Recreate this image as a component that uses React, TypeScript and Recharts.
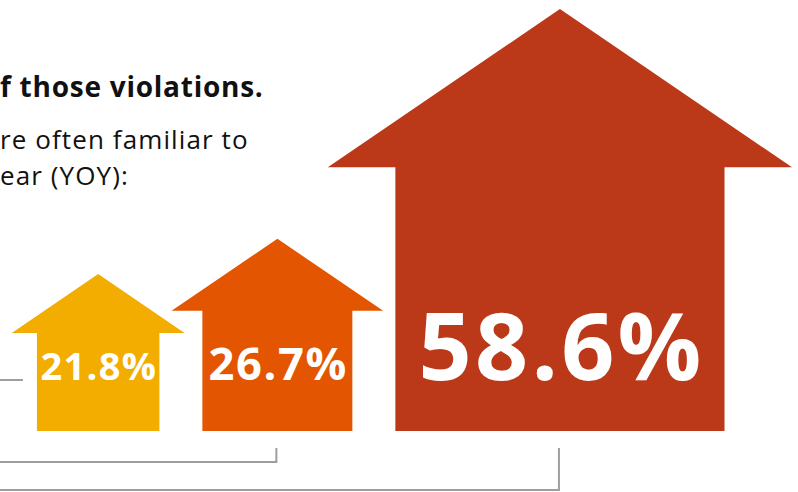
import { ComposedChart, Bar, XAxis, YAxis } from 'recharts';

// values, left to right
const SERIES = ['first', 'second', 'third'];
const VALUES = [21.8, 26.7, 58.6];
const LABELS = ['21.8%', '26.7%', '58.6%'];
const COLORS = ['#F2AD00', '#E35500', '#BB3819'];

const INTRO_LINES = ['f those violations.', 're often familiar to', 'ear (YOY):'];

const WIDTH = 798;
const HEIGHT = 492;
const MARGIN = { top: 9, right: 0, bottom: 61, left: 0 };
const PLOT_H = HEIGHT - MARGIN.top - MARGIN.bottom;
const MAX = Math.max(...VALUES);
const PX_PER_UNIT = PLOT_H / MAX; // same scale on both axes so the arrows keep their shape

// arrow proportions, relative to the arrow height
const BODY_HALF = 0.39;
const HEAD_HALF = 0.55;
const SHOULDER = 0.625;

const LEFT_PAD = 12; // px before the first arrow head
const GAP = 43; // px between arrow bodies

// arrow centres in value units, laid out side by side
const centers: number[] = [];
VALUES.forEach((v, i) => {
  if (i === 0) centers.push(LEFT_PAD / PX_PER_UNIT + HEAD_HALF * v);
  else centers.push(centers[i - 1] + BODY_HALF * VALUES[i - 1] + GAP / PX_PER_UNIT + BODY_HALF * v);
});

const data = SERIES.map((name, i) => ({
  name,
  pos: centers[i],
  value: VALUES[i],
  label: LABELS[i],
  color: COLORS[i],
}));

const FONT = '"Open Sans", sans-serif';
const LINE_COLOR = '#9E9E9E';

function ArrowShape(props: any) {
  const { x, y, width, height, index, payload } = props;
  const cx = x + width / 2;
  const yb = y + height;
  const h = height;
  const bh = BODY_HALF * h;
  const hh = HEAD_HALF * h;
  const sy = yb - SHOULDER * h;
  const d = [
    `M${cx - bh},${yb}`,
    `L${cx - bh},${sy}`,
    `L${cx - hh},${sy}`,
    `L${cx},${y}`,
    `L${cx + hh},${sy}`,
    `L${cx + bh},${sy}`,
    `L${cx + bh},${yb}`,
    'Z',
  ].join(' ');
  const labelY = yb - 51;
  const fontSize = 5.4 + 0.2075 * h;
  const spacing = fontSize * 0.035;

  // leader lines running off to the left
  let leader = '';
  if (index === 0) {
    leader = `M-10,${labelY} L${cx - bh - 14},${labelY}`;
  } else {
    const level = yb + 3 + 28 * index;
    leader = `M${cx - 1},${yb + 17} L${cx - 1},${level} L-10,${level}`;
  }

  return (
    <g>
      <path d={leader} fill="none" stroke={LINE_COLOR} strokeWidth={2} />
      <path d={d} fill={payload.color} />
      <text
        x={cx + spacing / 2}
        y={labelY}
        textAnchor="middle"
        fill="#fff"
        fontFamily={FONT}
        fontWeight={700}
        fontSize={fontSize}
        letterSpacing={spacing}
      >
        {payload.label}
      </text>
    </g>
  );
}

export default function App() {
  return (
    <div style={{ position: 'absolute', left: 0, top: 0, width: WIDTH, height: HEIGHT, background: '#fff', overflow: 'hidden' }}>
      <div style={{ position: 'absolute', left: 0, top: 0, fontFamily: FONT, color: '#111', whiteSpace: 'nowrap' }}>
        <div style={{ position: 'absolute', left: 0, top: 66, fontSize: 28, fontWeight: 700, lineHeight: '40px', letterSpacing: 0.75 }}>
          {INTRO_LINES[0]}
        </div>
        <div style={{ position: 'absolute', left: 0, top: 121, fontSize: 26, lineHeight: '36px', letterSpacing: 1.1 }}>
          {INTRO_LINES[1]}
          <br />
          {INTRO_LINES[2]}
        </div>
      </div>
      <ComposedChart width={WIDTH} height={HEIGHT} data={data} margin={MARGIN} style={{ position: 'absolute', left: 0, top: 0 }}>
        <XAxis dataKey="pos" type="number" domain={[0, WIDTH / PX_PER_UNIT]} hide />
        <YAxis type="number" domain={[0, 'dataMax']} hide />
        <Bar dataKey="value" shape={ArrowShape} isAnimationActive={false} />
      </ComposedChart>
    </div>
  );
}
